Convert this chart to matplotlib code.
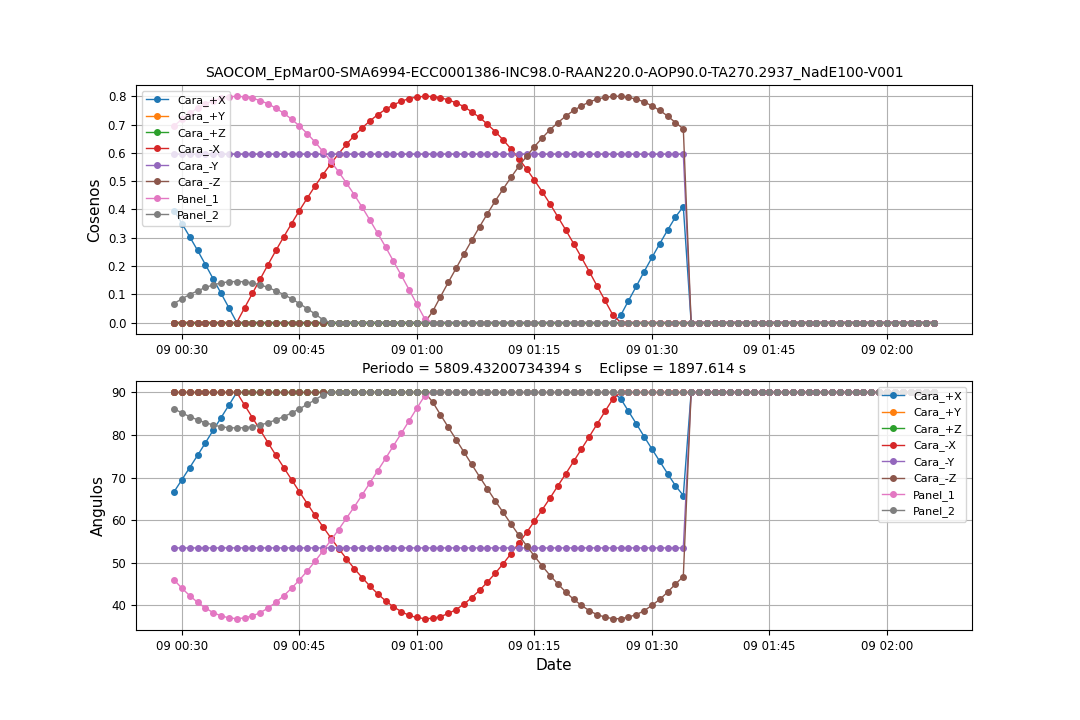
import numpy as np
import matplotlib.pyplot as plt
import matplotlib.dates as mdates
from datetime import datetime, timedelta

# cosenos, un valor por minuto desde 00:29 hasta 01:34
cara_px = [0.396, 0.350, 0.303, 0.255, 0.205, 0.154, 0.103, 0.052] + [0.0] * 49 + \
          [0.025, 0.077, 0.128, 0.180, 0.230, 0.279, 0.327, 0.373, 0.410]
cara_py = [0.0] * 66
cara_pz = [0.0] * 66
cara_mx = [0.0] * 8 + [0.000, 0.052, 0.103, 0.154, 0.205, 0.255, 0.303, 0.350, 0.396, 0.440,
                       0.483, 0.523, 0.561, 0.597, 0.630, 0.661, 0.688, 0.713, 0.735, 0.754,
                       0.770, 0.782, 0.792, 0.797, 0.800, 0.799, 0.795, 0.787, 0.777, 0.763,
                       0.745, 0.725, 0.701, 0.675, 0.646, 0.614, 0.579, 0.543, 0.503, 0.462,
                       0.419, 0.373, 0.327, 0.279, 0.230, 0.180, 0.129, 0.078, 0.027] + [0.0] * 9
cara_my = [0.595] * 66
cara_mz = [0.0] * 33 + [0.039, 0.091, 0.142, 0.192, 0.242, 0.291, 0.339, 0.385, 0.430, 0.472,
                        0.513, 0.552, 0.588, 0.622, 0.653, 0.682, 0.707, 0.730, 0.750, 0.766,
                        0.780, 0.790, 0.796, 0.800, 0.800, 0.796, 0.790, 0.780, 0.766, 0.750,
                        0.730, 0.707, 0.685]
panel_1 = [0.695, 0.719, 0.740, 0.758, 0.773, 0.785, 0.793, 0.798, 0.800, 0.798, 0.793, 0.785,
           0.773, 0.758, 0.740, 0.719, 0.695, 0.668, 0.638, 0.605, 0.570, 0.533, 0.493, 0.452,
           0.408, 0.362, 0.315, 0.267, 0.217, 0.167, 0.116, 0.064, 0.013] + [0.0] * 33
panel_2 = [0.067, 0.084, 0.099, 0.112, 0.124, 0.133, 0.140, 0.144, 0.145, 0.144, 0.140, 0.133,
           0.124, 0.112, 0.099, 0.084, 0.067, 0.049, 0.030, 0.010] + [0.0] * 46
tail = [0.0] * 32  # despues de 01:35 todo en cero

nombres = ['Cara_+X', 'Cara_+Y', 'Cara_+Z', 'Cara_-X', 'Cara_-Y', 'Cara_-Z', 'Panel_1', 'Panel_2']
series = [cara_px, cara_py, cara_pz, cara_mx, cara_my, cara_mz, panel_1, panel_2]

t0 = datetime(2000, 1, 9, 0, 29)
fechas = [t0 + timedelta(minutes=i) for i in range(66 + len(tail))]

titulo = 'SAOCOM_EpMar00-SMA6994-ECC0001386-INC98.0-RAAN220.0-AOP90.0-TA270.2937_NadE100-V001'
titulo2 = 'Periodo = 5809.43200734394 s    Eclipse = 1897.614 s'

fig, (ax1, ax2) = plt.subplots(2, 1, figsize=(10.8, 7.2), dpi=100)
plt.subplots_adjust(left=0.126, right=0.9, top=0.882, bottom=0.125, hspace=0.19)

for nom, s in zip(nombres, series):
    cos = np.array(s + tail)
    ang = np.degrees(np.arccos(cos))
    ax1.plot(fechas, cos, marker='o', markersize=4, linewidth=1, label=nom)
    ax2.plot(fechas, ang, marker='o', markersize=4, linewidth=1, label=nom)

for ax in (ax1, ax2):
    ax.grid(True)
    ax.xaxis.set_major_locator(mdates.MinuteLocator(byminute=[0, 15, 30, 45]))
    ax.xaxis.set_major_formatter(mdates.DateFormatter('%d %H:%M'))
    ax.tick_params(labelsize=8.5)

ax1.set_title(titulo, fontsize=10)
ax1.set_ylabel('Cosenos', fontsize=11)
ax1.legend(loc='upper left', fontsize=8)
ax2.set_title(titulo2, fontsize=10)
ax2.set_ylabel('Angulos', fontsize=11)
ax2.set_xlabel('Date', fontsize=11)
ax2.legend(loc='upper right', fontsize=8)

plt.savefig('out.png')
